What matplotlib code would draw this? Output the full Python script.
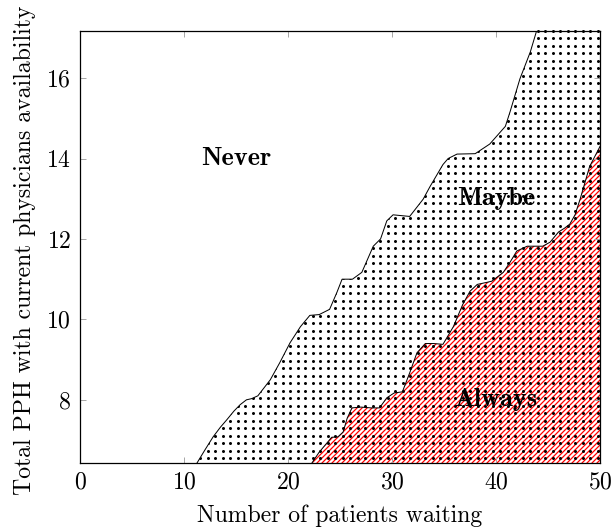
import numpy as np
import matplotlib.pyplot as plt
from matplotlib.patches import Polygon

plt.rcParams['font.family'] = 'cmr10'
plt.rcParams['mathtext.fontset'] = 'cm'
plt.rcParams['axes.formatter.use_mathtext'] = True
plt.rcParams['hatch.linewidth'] = 1.0

# upper boundary: below it the service "maybe" keeps up
never_x = [11.25, 12.0, 12.8, 13.5, 14.1, 14.8, 15.4, 16.0, 16.5, 17.1, 17.7, 18.3,
           19.2, 20.2, 21.2, 22.1, 23.0, 24.0, 24.7, 25.2, 26.2, 27.1, 28.2, 28.9,
           29.5, 30.1, 31.7, 33.0, 33.65, 34.9, 35.4, 36.25, 38.0, 39.4, 40.9, 41.35,
           42.3, 43.3, 43.9, 50.0]
never_y = [6.43, 6.75, 7.08, 7.32, 7.5, 7.72, 7.88, 8.0, 8.03, 8.1, 8.3, 8.5,
           8.92, 9.42, 9.82, 10.1, 10.12, 10.25, 10.67, 11.0, 11.0, 11.17, 11.82, 12.0,
           12.45, 12.6, 12.56, 12.99, 13.3, 13.85, 14.0, 14.11, 14.12, 14.36, 14.8, 15.16,
           15.98, 16.65, 17.17, 19.0]

# lower boundary: below it the service "always" keeps up
always_x = [22.3, 23.0, 23.75, 24.2, 24.8, 25.3, 25.7, 26.15, 27.0, 28.0, 28.8, 29.5,
            30.2, 31.0, 31.7, 32.4, 33.2, 34.0, 34.9, 35.9, 36.8, 37.5, 38.2, 39.1,
            39.6, 40.7, 41.3, 42.0, 43.0, 44.5, 45.2, 46.0, 46.6, 47.1, 47.6, 48.1,
            49.0, 50.0]
always_y = [6.43, 6.7, 6.93, 7.07, 7.08, 7.2, 7.55, 7.8, 7.82, 7.8, 7.8, 8.05,
            8.17, 8.2, 8.67, 9.17, 9.4, 9.4, 9.38, 9.82, 10.37, 10.7, 10.87, 10.92,
            10.95, 11.17, 11.4, 11.7, 11.82, 11.82, 11.92, 12.17, 12.27, 12.37, 12.6, 13.0,
            13.8, 14.3]

regions = ['Never', 'Maybe', 'Always']
region_x = [15, 40, 40]
region_y = [14, 13, 8]

ymin, ymax = 6.43, 17.17
dpi = 90
fig = plt.figure(figsize=(611 / dpi, 529 / dpi), dpi=dpi)
ax = fig.add_axes([80 / 611, 66 / 529, 520 / 611, 432 / 529])
ax.set_xlim(0, 50)
ax.set_ylim(ymin, ymax)

# dotted area under the upper curve, drawn as a square grid of dots
area = Polygon(np.column_stack([never_x + [50, never_x[0]], never_y + [ymin, ymin]]),
               facecolor='none', edgecolor='none')
ax.add_patch(area)
step = 7.5
gx, gy = np.meshgrid(np.arange(0, 521, step) / 520, np.arange(5, 433, step) / 432)
dots, = ax.plot(gx.ravel(), gy.ravel(), ls='none', marker='o', ms=2.4, mew=0,
                color='black', transform=ax.transAxes)
dots.set_clip_path(area)

# red hatching under the lower curve
ax.fill_between(always_x, always_y, ymin, facecolor='none', edgecolor='red',
                linewidth=0, hatch='//////')

ax.plot(never_x, never_y, color='black', lw=0.8)
ax.plot(always_x, always_y, color='black', lw=0.8)

for name, x, y in zip(regions, region_x, region_y):
    ax.text(x, y, name, ha='center', va='center', fontfamily='cmb10', fontsize=21)

ax.set_xticks([0, 10, 20, 30, 40, 50])
ax.set_yticks([8, 10, 12, 14, 16])
ax.tick_params(direction='in', top=True, right=True, color='#a8a8a8', length=5,
               width=0.8, labelsize=19, pad=7)
for s in ax.spines.values():
    s.set_linewidth(1.0)

ax.set_xlabel('Number of patients waiting', fontsize=19)
ax.set_ylabel('Total PPH with current physicians availability', fontsize=19)
ax.xaxis.set_label_coords(0.5, -0.1227)
ax.xaxis.label.set_verticalalignment('center')
ax.yaxis.set_label_coords(-0.106, 0.493)
ax.yaxis.label.set_verticalalignment('center')

fig.savefig('out.png', dpi=dpi)
